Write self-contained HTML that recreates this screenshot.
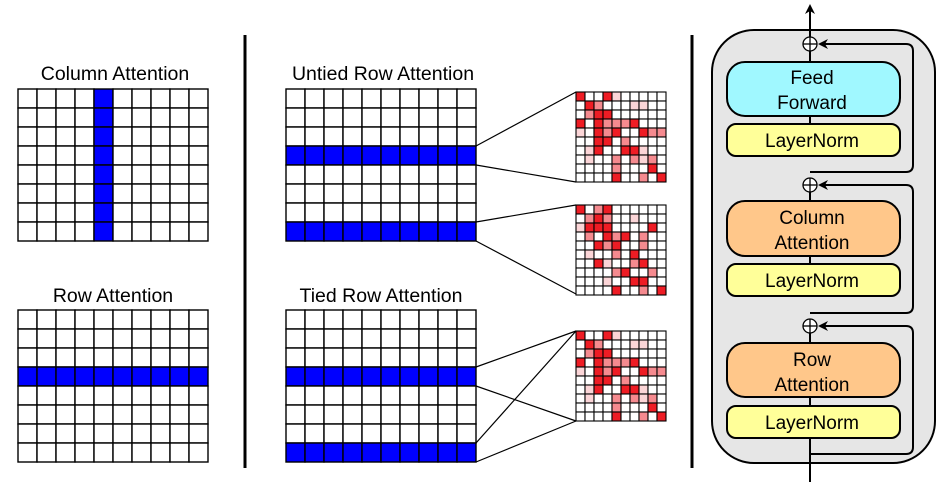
<!DOCTYPE html>
<html><head><meta charset="utf-8"><style>
html,body{margin:0;padding:0;background:#fff;}
svg{display:block;font-family:"Liberation Sans","DejaVu Sans",sans-serif;}
</style></head><body>
<svg id="s" width="948" height="488" viewBox="0 0 948 488" xmlns="http://www.w3.org/2000/svg">
<defs>
<marker id="ah" markerWidth="10" markerHeight="10" refX="8" refY="5" orient="auto" markerUnits="userSpaceOnUse">
<path d="M0,0 L10,5 L0,10 L3,5 Z" fill="#000"/></marker>
</defs>
<g id="g"></g>
<g font-size="19.5" text-anchor="middle">
<text x="115" y="80">Column Attention</text>
<text x="113" y="302">Row Attention</text>
<text x="383" y="80">Untied Row Attention</text>
<text x="381" y="302">Tied Row Attention</text>
</g>
<line x1="245" y1="35" x2="245" y2="468" stroke="#000" stroke-width="3"/>
<line x1="692" y1="35" x2="692" y2="468" stroke="#000" stroke-width="3"/>
<g stroke="#000" stroke-width="1.2">
<line x1="476" y1="146" x2="576" y2="92"/><line x1="476" y1="165" x2="576" y2="182"/>
<line x1="476" y1="222" x2="576" y2="205"/><line x1="476" y1="241" x2="576" y2="294"/>
<line x1="476" y1="367" x2="576" y2="331"/><line x1="476" y1="386" x2="576" y2="421"/>
<line x1="476" y1="443" x2="576" y2="331"/><line x1="476" y1="462" x2="576" y2="421"/>
</g>
<rect x="712" y="30" width="223" height="433" rx="42" fill="#e6e6e6" stroke="#000" stroke-width="2"/>
<g stroke="#000" stroke-width="2" fill="none">
<line x1="810" y1="482" x2="810" y2="408" marker-end="url(#ah)"/>
<line x1="810" y1="437" x2="810" y2="319"/>
<line x1="810" y1="296" x2="810" y2="267" marker-end="url(#ah)"/>
<line x1="810" y1="296" x2="810" y2="178"/>
<line x1="810" y1="156" x2="810" y2="127" marker-end="url(#ah)"/>
<line x1="810" y1="156" x2="810" y2="37"/>
<line x1="810" y1="40" x2="810" y2="6" marker-end="url(#ah)"/>
<path d="M810,454 H906 Q913,454 913,447 V333 Q913,326 906,326 H820" marker-end="url(#ah)"/>
<path d="M810,313 H906 Q913,313 913,306 V192 Q913,185 906,185 H820" marker-end="url(#ah)"/>
<path d="M810,172 H906 Q913,172 913,165 V51 Q913,44 906,44 H820" marker-end="url(#ah)"/>
</g>
<g fill="#fff" stroke="#000" stroke-width="1.3">
<circle cx="810" cy="44" r="7"/><circle cx="810" cy="185" r="7"/><circle cx="810" cy="326" r="7"/>
</g>
<g stroke="#000" stroke-width="1.3">
<line x1="803" y1="44" x2="817" y2="44"/><line x1="810" y1="37" x2="810" y2="51"/>
<line x1="803" y1="185" x2="817" y2="185"/><line x1="810" y1="178" x2="810" y2="192"/>
<line x1="803" y1="326" x2="817" y2="326"/><line x1="810" y1="319" x2="810" y2="333"/>
</g>
<g stroke="#000" stroke-width="2">
<rect x="727" y="62" width="173" height="54" rx="18" fill="#a0f8ff"/>
<rect x="727" y="124" width="173" height="32" rx="9" fill="#ffff99"/>
<rect x="727" y="201" width="173" height="55" rx="18" fill="#ffc78a"/>
<rect x="727" y="264" width="173" height="32" rx="9" fill="#ffff99"/>
<rect x="727" y="343" width="173" height="54" rx="18" fill="#ffc78a"/>
<rect x="727" y="406" width="173" height="32" rx="9" fill="#ffff99"/>
</g>
<g font-size="19" text-anchor="middle">
<text x="812" y="84">Feed</text><text x="812" y="109">Forward</text>
<text x="812" y="147">LayerNorm</text>
<text x="812" y="224">Column</text><text x="812" y="249">Attention</text>
<text x="812" y="287">LayerNorm</text>
<text x="812" y="366">Row</text><text x="812" y="391">Attention</text>
<text x="812" y="429">LayerNorm</text>
</g>
</svg>
<script>
var g=document.getElementById('g'),NS='http://www.w3.org/2000/svg';
function r(x,y,w,h,f,sw){var e=document.createElementNS(NS,'rect');e.setAttribute('x',x);e.setAttribute('y',y);e.setAttribute('width',w);e.setAttribute('height',h);e.setAttribute('fill',f);e.setAttribute('stroke','#000');e.setAttribute('stroke-width',sw);g.appendChild(e);}
function grid(x0,y0,blue){for(var i=0;i<8;i++)for(var j=0;j<10;j++){r(x0+j*19,y0+i*19,19,19,blue(i,j)?'#0000ff':'#fff',1.4);}}
grid(18,89,function(i,j){return j==4;});
grid(18,310,function(i,j){return i==3;});
grid(286,89,function(i,j){return i==3||i==7;});
grid(286,310,function(i,j){return i==3||i==7;});
var C=['#fff','#ee1c24','#f58a8f','#fbd5d7'];
var P=["1001300000","0120003300","0211000000","1012221000","3012100122","0011020000","0310011300","0300202320","0000200010","0000100201"];
var P2=["1021000000","0212003000","3111000010","0201210200","0012100200","0300201000","0013002100","0000210020","0003001100","0000100201"];
function heat(x0,y0,p){for(var i=0;i<10;i++)for(var j=0;j<10;j++)r(x0+j*9,y0+i*9,9,9,C[+p[i][j]],1.1);}
heat(576,92,P);heat(576,205,P2);heat(576,331,P);
</script>
</body></html>
